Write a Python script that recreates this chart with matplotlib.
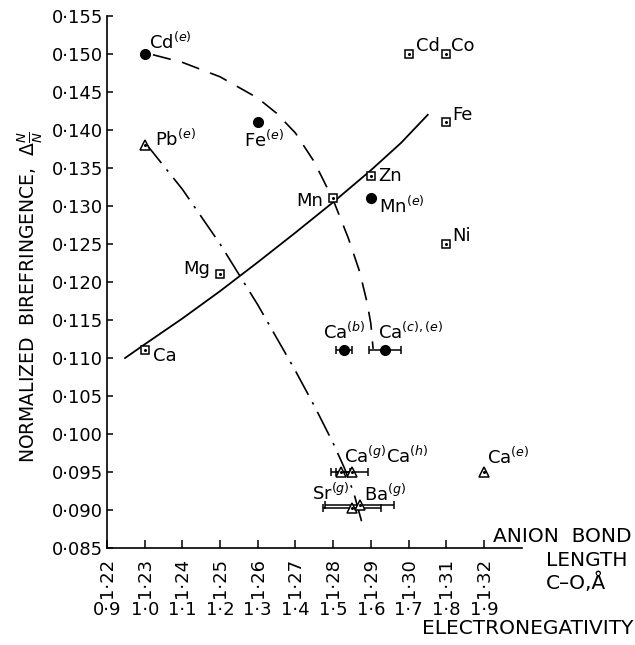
import matplotlib
matplotlib.use("Agg")
import matplotlib.pyplot as plt
import matplotlib.transforms as mtransforms

plt.rcParams['font.family'] = ['DejaVu Sans']
plt.rcParams['mathtext.fontset'] = 'dejavusans'

# ---------------- data ----------------
# open squares (bond length, normalized birefringence)
sq_names = ["Ca", "Mg", "Mn", "Zn", "Cd", "Co", "Fe", "Ni"]
sq_x = [1.23, 1.25, 1.28, 1.29, 1.30, 1.31, 1.31, 1.31]
sq_y = [0.111, 0.121, 0.131, 0.134, 0.150, 0.150, 0.141, 0.125]

# filled circles
ci_names = [r"Cd$^{(e)}$", r"Fe$^{(e)}$", r"Mn$^{(e)}$", r"Ca$^{(b)}$", r"Ca$^{(c),(e)}$"]
ci_x = [1.23, 1.26, 1.29, 1.2829, 1.2937]
ci_y = [0.150, 0.141, 0.131, 0.111, 0.111]
ci_xerr = [0.0, 0.0, 0.0, 0.0022, 0.0042]

# open triangles
tr_names = [r"Pb$^{(e)}$", r"Ca$^{(g)}$", r"Ca$^{(h)}$", r"Sr$^{(g)}$", r"Ba$^{(g)}$", r"Ca$^{(e)}$"]
tr_x = [1.23, 1.282, 1.285, 1.285, 1.287, 1.32]
tr_y = [0.138, 0.095, 0.095, 0.0903, 0.0906, 0.095]
tr_xerr = [0.0, 0.0025, 0.0042, 0.0078, 0.0092, 0.0]

# hand-drawn trend curves
solid_x = [1.2248, 1.2300, 1.2400, 1.2500, 1.2600, 1.2700, 1.2800, 1.2900, 1.2980, 1.3051]
solid_y = [0.1100, 0.1118, 0.1152, 0.1188, 0.1226, 0.1265, 0.1305, 0.1347, 0.1383, 0.1420]
dash_x = [1.2322, 1.2400, 1.2500, 1.2600, 1.2650, 1.2700, 1.2750, 1.2800, 1.2840,
          1.2870, 1.2890, 1.2900, 1.2906]
dash_y = [0.1499, 0.1489, 0.1470, 0.1442, 0.1422, 0.1396, 0.1358, 0.1308, 0.1258,
          0.1214, 0.1173, 0.1145, 0.1112]
dd_x = [1.2300, 1.2400, 1.2500, 1.2600, 1.2700, 1.2750, 1.2800, 1.2830, 1.2855, 1.2876]
dd_y = [0.1384, 0.1322, 0.1250, 0.1170, 0.1083, 0.1037, 0.0988, 0.0955, 0.0922, 0.0884]

x_ticks = [1.22, 1.23, 1.24, 1.25, 1.26, 1.27, 1.28, 1.29, 1.30, 1.31, 1.32]
en_labels = ["0·9", "1·0", "1·1", "1·2", "1·3", "1·4", "1·5", "1·6", "1·7", "1·8", "1·9"]
y_ticks = [0.085, 0.090, 0.095, 0.100, 0.105, 0.110, 0.115, 0.120, 0.125,
           0.130, 0.135, 0.140, 0.145, 0.150, 0.155]

# ---------------- figure ----------------
W, H = 635, 645
fig = plt.figure(figsize=(W / 100, H / 100), dpi=100)
ax = fig.add_axes([107 / W, 1 - 548 / H, (522 - 107) / W, (548 - 16) / H])
ax.set_xlim(1.22, 1.3301)
ax.set_ylim(0.085, 0.155)
for s in ["top", "right"]:
    ax.spines[s].set_visible(False)
for s in ["left", "bottom"]:
    ax.spines[s].set_linewidth(1.2)

ax.set_xticks(x_ticks)
ax.set_xticklabels([f"{v:.2f}".replace(".", "·") for v in x_ticks], rotation=90,
                   fontsize=13)
ax.set_yticks(y_ticks)
ax.set_yticklabels([f"{v:.3f}".replace(".", "·") for v in y_ticks], fontsize=13)
ax.tick_params(axis="x", direction="in", length=6, width=1.1, pad=7)
ax.tick_params(axis="y", direction="in", length=4, width=1.1, pad=3)

# curves
ax.plot(solid_x, solid_y, color="black", lw=1.3, zorder=2)
ax.plot(dash_x, dash_y, color="black", lw=1.2, dashes=(11, 7), zorder=2)
ax.plot(dd_x, dd_y, color="black", lw=1.2, dashes=(16, 5, 1.5, 5), zorder=2)

# markers
ax.plot(sq_x, sq_y, ls="none", marker="s", ms=5.8, mfc="white", mec="black", mew=1.1, zorder=4)
ax.plot(sq_x, sq_y, ls="none", marker="o", ms=1.2, color="black", zorder=5)

ax.errorbar(ci_x, ci_y, xerr=ci_xerr, fmt="o", ms=7, color="black", ecolor="black",
            elinewidth=1.1, capsize=3, capthick=1.1, zorder=4)

ax.errorbar(tr_x, tr_y, xerr=tr_xerr, fmt="^", ms=7, mfc="white", mec="black", mew=1.1,
            ecolor="black", elinewidth=1.1, capsize=3, capthick=1.1, zorder=4)
ax.plot(tr_x, tr_y, ls="none", marker="o", ms=1.2, color="black", zorder=5)

# point labels (offsets in pixels)
fs = 13
sq_off = [(8, -6, "left"), (-10, 5, "right"), (-10, -3, "right"), (7, 0, "left"),
          (7, 8, "left"), (5, 8, "left"), (6, 7, "left"), (6, 8, "left")]
for n, x, y, (dx, dy, ha) in zip(sq_names, sq_x, sq_y, sq_off):
    ax.annotate(n, (x, y), xytext=(dx, dy), textcoords="offset pixels",
                ha=ha, va="center", fontsize=fs)
ci_off = [(4, 12, "left"), (6, -18, "center"), (8, -8, "left"), (0, 18, "center"), (-7, 18, "left")]
for n, x, y, (dx, dy, ha) in zip(ci_names, ci_x, ci_y, ci_off):
    ax.annotate(n, (x, y), xytext=(dx, dy), textcoords="offset pixels",
                ha=ha, va="center", fontsize=fs)
tr_off = [(10, 6, "left"), (3, 16, "left"), (34, 16, "left"), (-2, 15, "right"),
          (4, 11, "left"), (3, 15, "left")]
for n, x, y, (dx, dy, ha) in zip(tr_names, tr_x, tr_y, tr_off):
    ax.annotate(n, (x, y), xytext=(dx, dy), textcoords="offset pixels",
                ha=ha, va="center", fontsize=fs)

# electronegativity row
trans = mtransforms.blended_transform_factory(ax.transData, ax.transAxes)
for x, lab in zip(x_ticks, en_labels):
    ax.text(x, -(610 - 548) / 532, lab, transform=trans, ha="center", va="center",
            fontsize=13)

# axis titles
fig.text(30 / W, 1 - 297 / H, r"NORMALIZED  BIREFRINGENCE,  $\Delta\frac{N}{N}$",
         rotation=90, ha="center", va="center", fontsize=13.5)
fig.text(493 / W, 1 - 537 / H, "ANION  BOND", ha="left", va="center", fontsize=14.5)
fig.text(546 / W, 1 - 560 / H, "LENGTH", ha="left", va="center", fontsize=14.5)
fig.text(546 / W, 1 - 583 / H, "C–O,Å", ha="left", va="center", fontsize=14.5)
fig.text(633 / W, 1 - 628 / H, "ELECTRONEGATIVITY", ha="right", va="center", fontsize=14.5)

fig.savefig("out.png", dpi=100)
